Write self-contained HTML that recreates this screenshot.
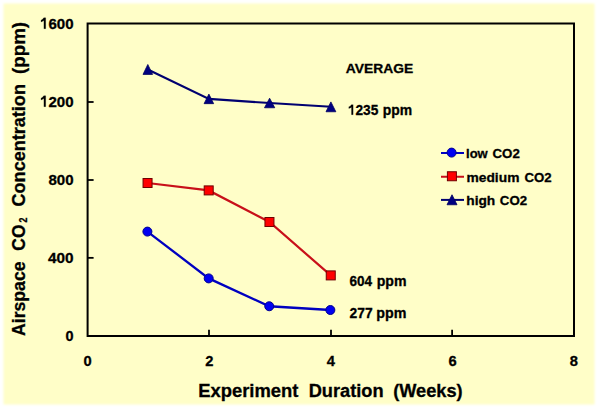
<!DOCTYPE html>
<html><head><meta charset="utf-8">
<style>
html,body{margin:0;padding:0;background:#fff;width:600px;height:410px;overflow:hidden}
svg{position:absolute;left:0;top:0;display:block}
text{font-family:"Liberation Sans",sans-serif;font-weight:bold;fill:#000;stroke:#000;stroke-width:0.3px}
.g1{fill:#000;stroke:#000;stroke-width:30}
</style></head><body>
<svg width="600" height="410" viewBox="0 0 600 410">
<defs><filter id="bl" x="-5%" y="-5%" width="110%" height="110%"><feGaussianBlur stdDeviation="1"/></filter></defs>
<rect x="3.5" y="3.5" width="591" height="401" fill="#FFFEC8" filter="url(#bl)"/>
<path d="M87.6,23.5 H574 V336 H87.6 Z" fill="none" stroke="#000" stroke-width="2"/>
<g stroke="#000" stroke-width="1.8">
<line x1="87.6" y1="102" x2="93.6" y2="102"/>
<line x1="87.6" y1="180" x2="93.6" y2="180"/>
<line x1="87.6" y1="257.85" x2="93.6" y2="257.85"/>
<line x1="209" y1="336" x2="209" y2="329.8"/>
<line x1="331" y1="336" x2="331" y2="329.8"/>
<line x1="452.1" y1="336" x2="452.1" y2="329.8"/>
</g>
<polyline points="147.8,69.5 208.9,98.9 269.6,103 330.9,106.8" fill="none" stroke="#000070" stroke-width="2.1"/>
<polyline points="147.55,183 208.7,190.4 269.45,222 330.75,275.4" fill="none" stroke="#C8101A" stroke-width="2.2"/>
<polyline points="147.4,231.6 208.7,278.4 269.25,306.25 330.35,310" fill="none" stroke="#0000C0" stroke-width="2.3"/>
<g fill="#0000F0" stroke="#000090" stroke-width="1">
<circle cx="147.4" cy="231.6" r="4.5"/>
<circle cx="208.7" cy="278.4" r="4.5"/>
<circle cx="269.25" cy="306.25" r="4.5"/>
<circle cx="330.35" cy="310" r="4.5"/>
</g>
<g fill="#FF0000" stroke="#700000" stroke-width="1">
<rect x="143.05" y="178.5" width="9" height="9"/>
<rect x="204.2" y="185.9" width="9" height="9"/>
<rect x="264.95" y="217.5" width="9" height="9"/>
<rect x="326.25" y="270.9" width="9" height="9"/>
</g>
<g fill="#000080" stroke="#000060" stroke-width="0.8">
<polygon points="147.8,64.5 152.6,74.4 143,74.4"/>
<polygon points="208.9,94.1 213.65,103.65 204.1,103.65"/>
<polygon points="269.6,98.2 274.75,107.75 264.5,107.75"/>
<polygon points="330.9,101.9 335.85,111.75 326,111.75"/>
</g>
<line x1="441" y1="153" x2="464" y2="153" stroke="#0000C0" stroke-width="2"/>
<line x1="441" y1="176.75" x2="464" y2="176.75" stroke="#C8101A" stroke-width="2"/>
<line x1="441" y1="199.9" x2="464" y2="199.9" stroke="#000070" stroke-width="2"/>
<circle cx="451.6" cy="152.6" r="4.5" fill="#0000F0" stroke="#000090" stroke-width="1"/>
<rect x="447.4" y="171.75" width="9" height="9" fill="#FF0000" stroke="#700000" stroke-width="1"/>
<polygon points="452,194.75 457,204.75 447,204.75" fill="#000080" stroke="#000060" stroke-width="0.8"/>
<text transform="translate(48.51,28.70) scale(0.990,1)" font-size="15.2">600</text>
<text transform="translate(48.51,106.67) scale(0.990,1)" font-size="15.2">200</text>
<text transform="translate(48.51,185.30) scale(0.990,1)" font-size="15.2">800</text>
<text transform="translate(48.08,262.67) scale(1.007,1)" font-size="15.2">400</text>
<text transform="translate(65.53,341.10) scale(0.950,1)" font-size="15.2">0</text>
<text transform="translate(83.61,365.85) scale(0.950,1)" font-size="15.5">0</text>
<text transform="translate(205.16,365.85) scale(0.950,1)" font-size="15.5">2</text>
<text transform="translate(326.69,365.85) scale(0.950,1)" font-size="15.5">4</text>
<text transform="translate(448.56,365.85) scale(0.950,1)" font-size="15.5">6</text>
<text transform="translate(569.84,365.85) scale(0.950,1)" font-size="15.5">8</text>
<text transform="translate(198.19,396.80) scale(1.045,1)" font-size="17.6">Experiment</text>
<text transform="translate(308.71,396.80) scale(1.036,1)" font-size="17.6">Duration</text>
<text transform="translate(393.17,396.80) scale(1.034,1)" font-size="17.6">(Weeks)</text>
<text transform="translate(345.81,72.67) scale(1.041,1)" font-size="13.3">AVERAGE</text>
<text transform="translate(355.51,114.67) scale(0.978,1)" font-size="14">235</text>
<text transform="translate(382.67,114.50) scale(0.997,1)" font-size="14">ppm</text>
<text transform="translate(349.52,286.20) scale(0.967,1)" font-size="14">604</text>
<text transform="translate(376.66,286.30) scale(1.009,1)" font-size="14">ppm</text>
<text transform="translate(349.51,317.67) scale(0.989,1)" font-size="14">277</text>
<text transform="translate(376.31,317.67) scale(1.021,1)" font-size="14">ppm</text>
<text transform="translate(466.05,157.50) scale(0.950,1)" font-size="13.7">low</text>
<text transform="translate(492.51,157.50) scale(0.972,1)" font-size="13.7">CO2</text>
<text transform="translate(466.49,181.60) scale(1.008,1)" font-size="13.7">medium</text>
<text transform="translate(524.52,181.60) scale(0.966,1)" font-size="13.7">CO2</text>
<text transform="translate(466.25,204.75) scale(1.003,1)" font-size="13.7">high</text>
<text transform="translate(499.85,204.75) scale(0.970,1)" font-size="13.7">CO2</text>
<text transform="translate(24.50,0) rotate(-90) translate(-336.00,0) scale(1.003,1)" font-size="17.6">Airspace</text>
<text transform="translate(24.50,0) rotate(-90) translate(-250.64,0) scale(0.988,1)" font-size="17.6">CO</text>
<text transform="translate(27.40,0) rotate(-90) translate(-222.52,0) scale(0.880,1)" font-size="10">2</text>
<text transform="translate(24.50,0) rotate(-90) translate(-206.47,0) scale(1.026,1)" font-size="17.6">Concentration</text>
<text transform="translate(24.50,0) rotate(-90) translate(-73.96,0) scale(1.064,1)" font-size="17.6">(ppm)</text>
<path class="g1" transform="translate(39.54,28.70) scale(0.00742,-0.00742)" d="M830,0 L590,0 L590,1090 C490,1010 340,940 200,915 L200,1150 C340,1200 480,1300 570,1466 L830,1466 Z"/>
<path class="g1" transform="translate(39.54,106.67) scale(0.00742,-0.00742)" d="M830,0 L590,0 L590,1090 C490,1010 340,940 200,915 L200,1150 C340,1200 480,1300 570,1466 L830,1466 Z"/>
<path class="g1" transform="translate(347.45,114.67) scale(0.00684,-0.00684)" d="M830,0 L590,0 L590,1090 C490,1010 340,940 200,915 L200,1150 C340,1200 480,1300 570,1466 L830,1466 Z"/>
</svg>
</body></html>
